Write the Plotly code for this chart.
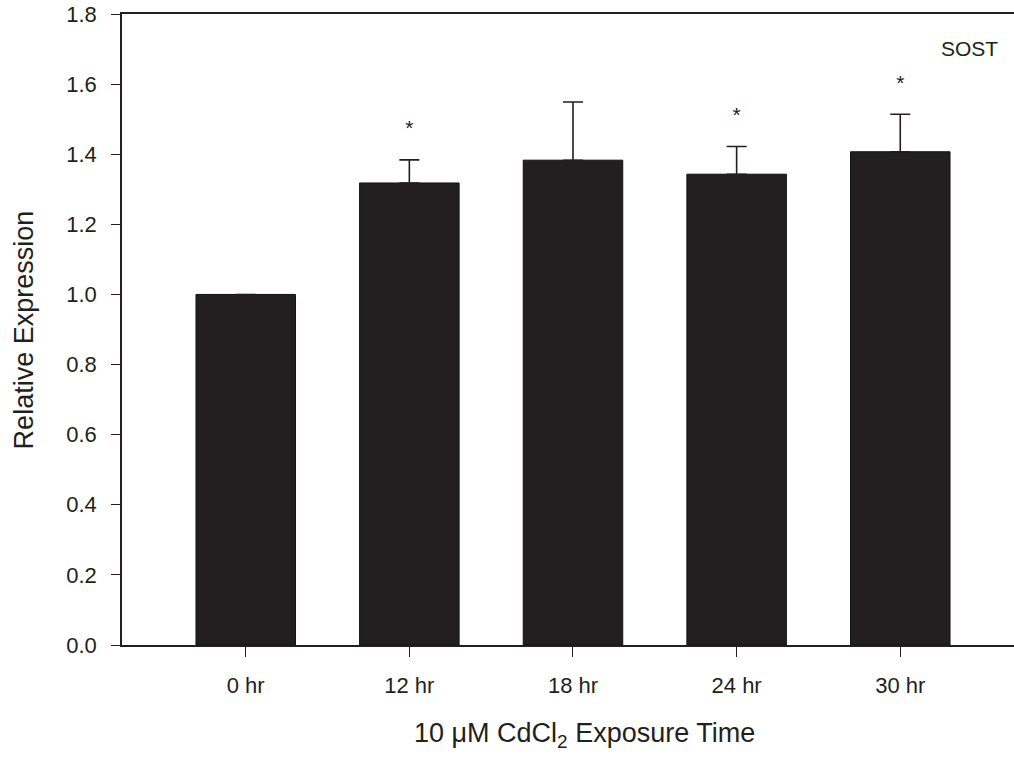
import plotly.graph_objects as go

categories = ["0 hr", "12 hr", "18 hr", "24 hr", "30 hr"]
values = [1.000, 1.318, 1.383, 1.343, 1.407]
errors = [0.0, 0.066, 0.166, 0.079, 0.107]
significant = [False, True, False, True, True]
y_ticks = [0.0, 0.2, 0.4, 0.6, 0.8, 1.0, 1.2, 1.4, 1.6, 1.8]
panel_label = "SOST"

INK = "#231f20"
FONT = "Liberation Sans, Arial, Helvetica, sans-serif"

fig = go.Figure()
fig.add_trace(go.Bar(
    x=categories,
    y=values,
    marker=dict(color=INK, line=dict(color="#111111", width=1)),
    error_y=dict(type="data", array=errors, symmetric=False, arrayminus=[0]*len(errors),
                 visible=True, color=INK, thickness=1.6, width=10),
    showlegend=False,
    hoverinfo="x+y",
))

# significance stars
star_x = [c for c, s in zip(categories, significant) if s]
star_y = [v + e + 0.085 for v, e, s in zip(values, errors, significant) if s]
fig.add_trace(go.Scatter(
    x=star_x, y=star_y, mode="text", text=["*"] * len(star_x),
    textposition="middle center",
    textfont=dict(family=FONT, size=21, color=INK),
    showlegend=False, hoverinfo="skip",
))

fig.update_layout(
    width=1014, height=765,
    margin=dict(l=122, r=0, t=14, b=120),
    paper_bgcolor="white", plot_bgcolor="white",
    font=dict(family=FONT, color=INK),
    bargap=0.392,
    xaxis=dict(
        type="category", range=[-0.756, 4.695],
        showline=True, linecolor=INK, linewidth=1.6, mirror=True,
        ticks="outside", ticklen=10, tickwidth=1.3, tickcolor=INK,
        tickfont=dict(family=FONT, size=22, color=INK),
        ticklabelstandoff=10,
        showgrid=False, zeroline=False,
    ),
    yaxis=dict(
        range=[0, 1.8], tickvals=y_ticks, ticktext=[f"{t:.1f}" for t in y_ticks],
        showline=True, linecolor=INK, linewidth=1.6,
        ticks="outside", ticklen=9, tickwidth=1.3, tickcolor=INK,
        tickfont=dict(family=FONT, size=22, color=INK),
        ticklabelstandoff=10,
        showgrid=False, zeroline=False,
    ),
    annotations=[
        dict(text="10 μM CdCl<sub>2</sub> Exposure Time", xref="paper", yref="paper",
             x=0.518, y=-0.1426, xanchor="center", yanchor="middle", showarrow=False,
             font=dict(family=FONT, size=27, color=INK)),
        dict(text="Relative Expression", xref="paper", yref="paper",
             x=-0.11, y=0.5, xanchor="center", yanchor="middle", textangle=-90,
             showarrow=False, font=dict(family=FONT, size=27, color=INK)),
        dict(text=panel_label, xref="paper", yref="paper",
             x=0.984, y=0.9457, xanchor="right", yanchor="middle", showarrow=False,
             font=dict(family=FONT, size=21, color=INK)),
    ],
)

fig.write_html("out.html", config={"displayModeBar": False},
               post_script="document.body.style.margin='0';document.body.style.overflow='hidden';")
